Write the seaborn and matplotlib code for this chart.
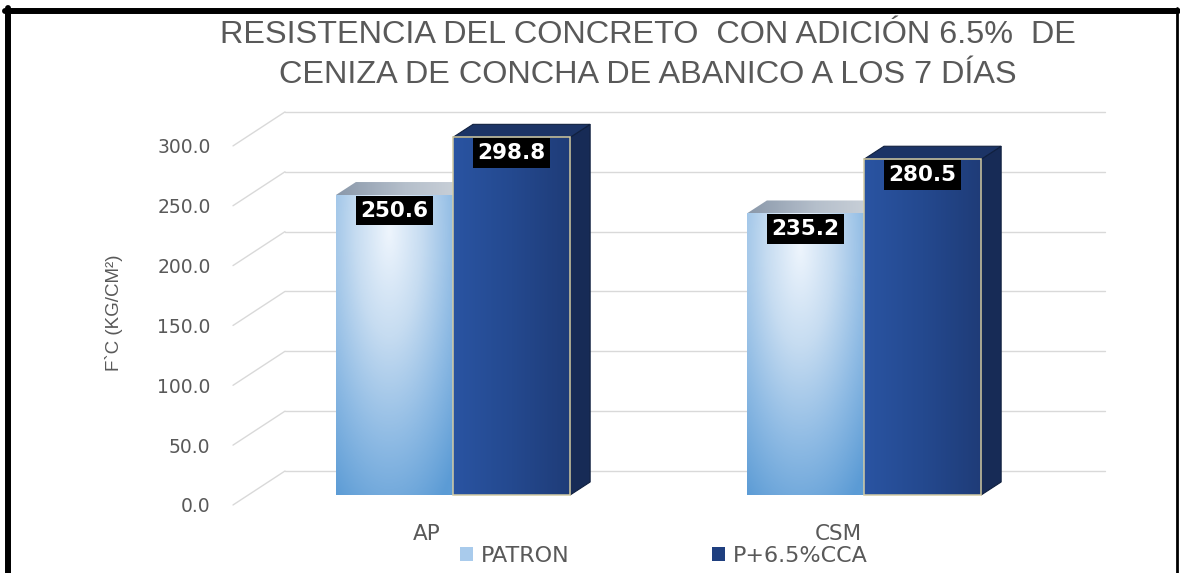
import numpy as np
import pandas as pd
import matplotlib
matplotlib.use("Agg")
import matplotlib.pyplot as plt
import seaborn as sns
from matplotlib.colors import LinearSegmentedColormap
from matplotlib.patches import Polygon, Rectangle, Patch
from matplotlib.lines import Line2D
from matplotlib.transforms import ScaledTranslation

# ---------------- data ----------------
categories = ["AP", "CSM"]
series_names = ["PATRON", "P+6.5%CCA"]
patron_values = [250.6, 235.2]
cca_values = [298.8, 280.5]
y_ticks = [0, 50, 100, 150, 200, 250, 300]
y_tick_labels = ["0.0", "50.0", "100.0", "150.0", "200.0", "250.0", "300.0"]
title_lines = ["RESISTENCIA DEL CONCRETO  CON ADICIÓN 6.5%  DE",
               "CENIZA DE CONCHA DE ABANICO A LOS 7 DÍAS"]
y_label = "F`C (KG/CM²)"

df = pd.DataFrame({
    "categoria": categories * 2,
    "serie": [series_names[0]] * len(categories) + [series_names[1]] * len(categories),
    "valor": patron_values + cca_values,
})

# ---------------- style ----------------
sns.set_theme(style="white")
plt.rcParams["font.family"] = ["DejaVu Sans"]
NARROW = ["Liberation Sans Narrow", "Liberation Sans", "DejaVu Sans"]
GREY = "#595959"

W, H = 1180, 573
fig = plt.figure(figsize=(W / 100, H / 100), dpi=100)
ax_left, ax_right, ax_top, ax_bottom = 230, 1110, 100, 520
ax = fig.add_axes([ax_left / W, (H - ax_bottom) / H,
                   (ax_right - ax_left) / W, (ax_bottom - ax_top) / H])

sns.barplot(data=df, x="categoria", y="valor", hue="serie",
            hue_order=series_names, order=categories,
            palette=["#9dc3e6", "#23488c"], saturation=1,
            width=0.57, ax=ax, legend=False, zorder=3, linewidth=0)

XLIM = (-0.5426, 1.5985)
YLIM = (-20.9, 330.0)
sx = (XLIM[1] - XLIM[0]) / (ax_right - ax_left)   # data per px (x)
sy = (YLIM[1] - YLIM[0]) / (ax_bottom - ax_top)   # data per px (y)

# ---- 3D-like back wall gridlines ----
back_dy = 24 * sy
front_dy = -10 * sy
x_front = XLIM[0] + 3 * sx
x_back_l = XLIM[0] + 55 * sx
x_back_r = XLIM[0] + 875 * sx
for v in y_ticks:
    ax.plot([x_back_l, x_back_r], [v + back_dy] * 2, color="#d9d9d9", lw=1, zorder=1)
    ax.plot([x_front, x_back_l], [v + front_dy, v + back_dy], color="#d9d9d9", lw=1, zorder=1)

# ---- bar decorations ----
dx, dy = 20 * sx, 13 * sy
light_cmap = LinearSegmentedColormap.from_list("light", ["#eef5fd", "#c6dcf1", "#8fbbe4", "#5b9bd5"])
dark_cmap = LinearSegmentedColormap.from_list("dark", ["#2a54a2", "#24498f", "#1f3c78"])
topl_cmap = LinearSegmentedColormap.from_list("topl", ["#8a98aa", "#b5bfcb", "#cfd5dc"])

yy, xx = np.mgrid[0:1:300j, 0:1:120j]

# PATRON bars (light, radial gradient)
for bar in ax.containers[0]:
    x0, w, h = bar.get_x(), bar.get_width(), bar.get_height()
    d = np.sqrt(((xx - 0.45) / 0.85) ** 2 + ((yy - 0.88) / 1.05) ** 2)
    img = light_cmap(np.clip(d, 0, 1))
    im = ax.imshow(img, extent=[x0, x0 + w, 0, h], origin="lower",
                   aspect="auto", zorder=3.05, interpolation="bilinear")
    im.set_clip_path(bar)
    top = Polygon([(x0, h), (x0 + w, h), (x0 + w + dx, h + dy), (x0 + dx, h + dy)],
                  closed=True, facecolor="none", edgecolor="none", zorder=2.9)
    ax.add_patch(top)
    imt = ax.imshow(topl_cmap(xx[:10, :]), extent=[x0, x0 + w + dx, h, h + dy],
                    origin="lower", aspect="auto", zorder=2.9, interpolation="bilinear")
    imt.set_clip_path(top)

# P+6.5%CCA bars (dark)
for bar in ax.containers[1]:
    x0, w, h = bar.get_x(), bar.get_width(), bar.get_height()
    im = ax.imshow(dark_cmap(xx), extent=[x0, x0 + w, 0, h], origin="lower",
                   aspect="auto", zorder=3.05, interpolation="bilinear")
    im.set_clip_path(bar)
    side = Polygon([(x0 + w, 0), (x0 + w + dx, dy), (x0 + w + dx, h + dy), (x0 + w, h)],
                   closed=True, facecolor="#172b56", edgecolor="#10203f", lw=0.8, zorder=3.1)
    ax.add_patch(side)
    top = Polygon([(x0, h), (x0 + w, h), (x0 + w + dx, h + dy), (x0 + dx, h + dy)],
                  closed=True, facecolor="#1c3466", edgecolor="#10203f", lw=0.8, zorder=3.1)
    ax.add_patch(top)
    ax.add_patch(Rectangle((x0, 0), w, h, fill=False, edgecolor="#d3cca4", lw=1.1, zorder=3.3))

# ---- value labels ----
for cont in ax.containers:
    for bar in cont:
        x0, w, h = bar.get_x(), bar.get_width(), bar.get_height()
        ax.annotate(f"{h:.1f}", xy=(x0 + w / 2, h), xytext=(0, -4),
                    textcoords="offset points", ha="center", va="top",
                    color="white", fontsize=15.5, fontweight="bold", zorder=6,
                    bbox=dict(boxstyle="square,pad=0.22", fc="black", ec="none"))

# ---- axes styling ----
ax.set_xlim(*XLIM)
ax.set_ylim(*YLIM)
for s in ax.spines.values():
    s.set_visible(False)
ax.grid(False)
ax.set_xlabel("")
ax.set_yticks(y_ticks, y_tick_labels)
ax.tick_params(axis="y", length=0, pad=14, labelsize=13.5, labelcolor=GREY)
ax.tick_params(axis="x", length=0, pad=3, labelsize=15.5, labelcolor=GREY)
for lbl in ax.get_yticklabels():
    lbl.set_transform(lbl.get_transform() + ScaledTranslation(0, -0.10, fig.dpi_scale_trans))
for lbl in ax.get_xticklabels():
    lbl.set_transform(lbl.get_transform() + ScaledTranslation(-0.26, 0, fig.dpi_scale_trans))

ax.set_ylabel(y_label, fontsize=13.5, color=GREY, family=NARROW)
ax.yaxis.set_label_coords(-0.122, 0.493)

# ---- title ----
fig.text(648 / W, (H - 35) / H, title_lines[0], ha="center", va="center",
         fontsize=23.3, color=GREY, family=NARROW)
fig.text(648 / W, (H - 75) / H, title_lines[1], ha="center", va="center",
         fontsize=23.3, color=GREY, family=NARROW)

# ---- legend ----
handles = [Patch(facecolor="#a9cbec", edgecolor="none"),
           Patch(facecolor="#1f3f7f", edgecolor="none")]
fig.legend(handles, series_names, loc="center", bbox_to_anchor=(664 / W, (H - 556) / H),
           ncol=2, frameon=False, fontsize=16, handlelength=0.6, handleheight=0.6,
           handletextpad=0.35, columnspacing=6.4, labelcolor=GREY)

# ---- outer black frame ----
fig.add_artist(Line2D([8 / W, 8 / W], [0, (H - 8) / H], transform=fig.transFigure,
                      color="black", lw=4.3))
fig.add_artist(Line2D([5 / W, 1178 / W], [(H - 11) / H] * 2, transform=fig.transFigure,
                      color="black", lw=4.3))
fig.add_artist(Line2D([1177 / W, 1177 / W], [0, (H - 8) / H], transform=fig.transFigure,
                      color="black", lw=2))

fig.savefig("out.png", dpi=100)
